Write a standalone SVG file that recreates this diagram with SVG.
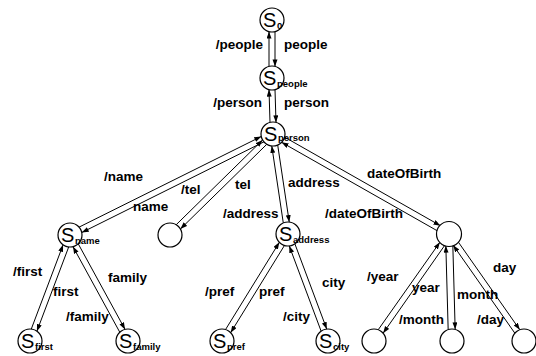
<svg xmlns="http://www.w3.org/2000/svg" width="536" height="356" viewBox="0 0 536 356">
<style>
.n{fill:#fff;stroke:#000;stroke-width:1.2}
.s{font-family:"Liberation Sans",Arial,sans-serif;font-size:20px;fill:#000}
.sub{font-family:"Liberation Sans",Arial,sans-serif;font-size:9.5px;font-weight:bold;fill:#000}
.l{font-family:"Liberation Sans",Arial,sans-serif;font-size:13.5px;font-weight:bold;fill:#000}
.e line{stroke:#000;stroke-width:1;marker-end:url(#a)}
</style>
<defs>
<marker id="a" markerUnits="userSpaceOnUse" markerWidth="8" markerHeight="6" refX="7" refY="2.5" orient="auto">
<path d="M0,0 L7,2.5 L0,5 z" fill="#000"/>
</marker>
</defs>
<rect width="536" height="356" fill="#fff"/>
<g class="e" id="edges">
<line x1="275" y1="31.6" x2="275" y2="66.4"/>
<line x1="269" y1="66.4" x2="269" y2="31.6"/>
<line x1="275" y1="89.6" x2="276" y2="122.4"/>
<line x1="270" y1="122.4" x2="269" y2="89.6"/>
<line x1="263.95" y1="141.86" x2="81.73" y2="232.52"/>
<line x1="79.05" y1="227.14" x2="261.27" y2="136.48"/>
<line x1="266.82" y1="144.26" x2="180.38" y2="229.02"/>
<line x1="176.18" y1="224.74" x2="262.62" y2="139.98"/>
<line x1="277.69" y1="145.03" x2="289.25" y2="222.09"/>
<line x1="283.31" y1="222.97" x2="271.75" y2="145.91"/>
<line x1="284.57" y1="137.12" x2="440.39" y2="225.66"/>
<line x1="437.43" y1="230.88" x2="281.61" y2="142.34"/>
<line x1="68.72" y1="246.91" x2="36.90" y2="331.21"/>
<line x1="31.28" y1="329.09" x2="63.10" y2="244.79"/>
<line x1="78.20" y1="243.74" x2="125.06" y2="329.38"/>
<line x1="119.80" y1="332.26" x2="72.94" y2="246.62"/>
<line x1="284.46" y1="245.45" x2="230.64" y2="332.71"/>
<line x1="225.54" y1="329.55" x2="279.36" y2="242.29"/>
<line x1="294.87" y1="243.82" x2="326.75" y2="329.08"/>
<line x1="321.13" y1="331.18" x2="289.25" y2="245.92"/>
<line x1="444.80" y1="245.22" x2="383.12" y2="333.22"/>
<line x1="378.20" y1="329.78" x2="439.88" y2="242.28"/>
<line x1="452.83" y1="245.52" x2="455.17" y2="329.32"/>
<line x1="448.17" y1="329.48" x2="445.83" y2="245.68"/>
<line x1="458.12" y1="241.78" x2="519.80" y2="329.78"/>
<line x1="514.88" y1="333.22" x2="453.20" y2="245.22"/>
</g>
<g id="edge-labels">
<text class="l" x="263" y="49" text-anchor="end">/people</text>
<text class="l" x="284" y="49">people</text>
<text class="l" x="262" y="107" text-anchor="end">/person</text>
<text class="l" x="284" y="107">person</text>
<text class="l" x="104" y="181">/name</text>
<text class="l" x="133" y="211">name</text>
<text class="l" x="181" y="194">/tel</text>
<text class="l" x="235" y="189">tel</text>
<text class="l" x="223" y="218">/address</text>
<text class="l" x="288" y="187">address</text>
<text class="l" x="367" y="178">dateOfBirth</text>
<text class="l" x="325" y="218">/dateOfBirth</text>
<text class="l" x="13" y="276">/first</text>
<text class="l" x="53" y="296">first</text>
<text class="l" x="108" y="282">family</text>
<text class="l" x="66" y="321">/family</text>
<text class="l" x="205" y="296">/pref</text>
<text class="l" x="259" y="296">pref</text>
<text class="l" x="322" y="287">city</text>
<text class="l" x="283" y="321">/city</text>
<text class="l" x="367" y="281">/year</text>
<text class="l" x="412" y="292">year</text>
<text class="l" x="457" y="299">month</text>
<text class="l" x="399" y="324">/month</text>
<text class="l" x="493" y="272">day</text>
<text class="l" x="477" y="324">/day</text>
</g>
<g id="S0"><circle class="n" cx="272" cy="20" r="12"/><text class="s" x="263" y="27">S</text><text class="sub" x="277" y="29">0</text></g>
<g id="Speople"><circle class="n" cx="272" cy="78" r="12"/><text class="s" x="263" y="85">S</text><text class="sub" x="277" y="87">people</text></g>
<g id="Sperson"><circle class="n" cx="273" cy="134" r="12"/><text class="s" x="264" y="141">S</text><text class="sub" x="278" y="141">person</text></g>
<g id="Sname"><circle class="n" cx="70" cy="235" r="12"/><text class="s" x="61" y="242">S</text><text class="sub" x="75" y="244">name</text></g>
<g id="Ntel"><circle class="n" cx="170" cy="235" r="12"/></g>
<g id="Saddress"><circle class="n" cx="288" cy="234" r="12"/><text class="s" x="279" y="241">S</text><text class="sub" x="293" y="243">address</text></g>
<g id="Ndob"><circle class="n" cx="449" cy="234" r="12.5"/></g>
<g id="Sfirst"><circle class="n" cx="30" cy="341" r="12"/><text class="s" x="21" y="348">S</text><text class="sub" x="35" y="350">first</text></g>
<g id="Sfamily"><circle class="n" cx="128" cy="341" r="12"/><text class="s" x="119" y="348">S</text><text class="sub" x="133" y="350">family</text></g>
<g id="Spref"><circle class="n" cx="222" cy="341" r="12"/><text class="s" x="213" y="348">S</text><text class="sub" x="227" y="350">pref</text></g>
<g id="Scity"><circle class="n" cx="328" cy="341" r="12"/><text class="s" x="319" y="348">S</text><text class="sub" x="333" y="350">city</text></g>
<g id="Nyear"><circle class="n" cx="374" cy="341" r="12"/></g>
<g id="Nmonth"><circle class="n" cx="452" cy="341" r="12"/></g>
<g id="Nday"><circle class="n" cx="524" cy="341" r="12"/></g>
</svg>
